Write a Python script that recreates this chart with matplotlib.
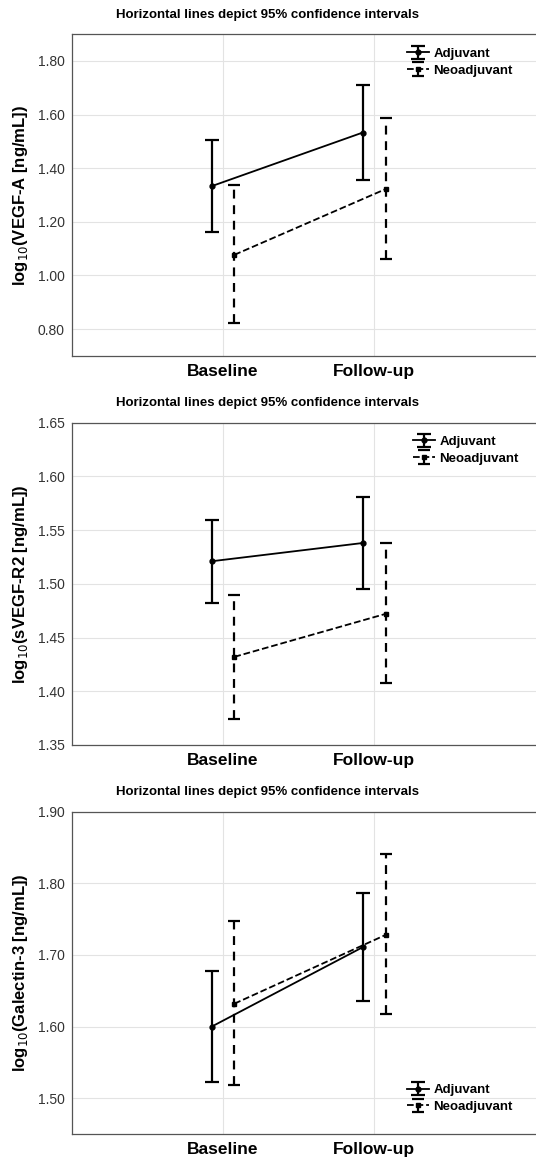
import matplotlib
matplotlib.use("Agg")
import matplotlib.pyplot as plt
import numpy as np

plt.rcParams['font.family'] = ['Liberation Sans', 'DejaVu Sans']

# categories
times = ['Baseline', 'Follow-up']
groups = ['Adjuvant', 'Neoadjuvant']

# panel 1 : VEGF-A
vegfa_adj_mean = [1.333, 1.533]
vegfa_adj_low = [1.161, 1.356]
vegfa_adj_high = [1.504, 1.711]
vegfa_neo_mean = [1.077, 1.322]
vegfa_neo_low = [0.824, 1.061]
vegfa_neo_high = [1.339, 1.588]

# panel 2 : sVEGF-R2
svegf_adj_mean = [1.521, 1.538]
svegf_adj_low = [1.482, 1.495]
svegf_adj_high = [1.559, 1.581]
svegf_neo_mean = [1.432, 1.472]
svegf_neo_low = [1.374, 1.408]
svegf_neo_high = [1.490, 1.538]

# panel 3 : Galectin-3
gal_adj_mean = [1.600, 1.711]
gal_adj_low = [1.523, 1.636]
gal_adj_high = [1.677, 1.786]
gal_neo_mean = [1.632, 1.728]
gal_neo_low = [1.519, 1.617]
gal_neo_high = [1.747, 1.841]

panels = [
    dict(label=r'log$_{10}$(VEGF-A [ng/mL])', ylim=(0.70, 1.90), ticks=np.arange(0.8, 1.81, 0.2),
         adj=(vegfa_adj_mean, vegfa_adj_low, vegfa_adj_high),
         neo=(vegfa_neo_mean, vegfa_neo_low, vegfa_neo_high),
         loc='upper right', anchor=(0.95, 0.958),
         rect=[0.134, 0.6926, 0.866, 0.278], title_y=0.987),
    dict(label=r'log$_{10}$(sVEGF-R2 [ng/mL])', ylim=(1.35, 1.65), ticks=np.arange(1.35, 1.651, 0.05),
         adj=(svegf_adj_mean, svegf_adj_low, svegf_adj_high),
         neo=(svegf_neo_mean, svegf_neo_low, svegf_neo_high),
         loc='upper right', anchor=(0.963, 0.96),
         rect=[0.134, 0.3567, 0.866, 0.2783], title_y=0.652),
    dict(label=r'log$_{10}$(Galectin-3 [ng/mL])', ylim=(1.45, 1.90), ticks=np.arange(1.50, 1.91, 0.1),
         adj=(gal_adj_mean, gal_adj_low, gal_adj_high),
         neo=(gal_neo_mean, gal_neo_low, gal_neo_high),
         loc='lower right', anchor=(0.95, 0.065),
         rect=[0.134, 0.0207, 0.866, 0.2783], title_y=0.316),
]

fig = plt.figure(figsize=(5.36, 11.58), dpi=100)
x = np.arange(1, len(times) + 1)
off = 0.075

for p in panels:
    ax = fig.add_axes(p['rect'])
    m, lo, hi = [np.array(v) for v in p['adj']]
    ax.errorbar(x - off, m, yerr=[m - lo, hi - m], color='black', lw=1.3, elinewidth=1.6,
                capsize=5, capthick=1.6, marker='o', ms=3.5, ls='-', label=groups[0], zorder=3)
    m, lo, hi = [np.array(v) for v in p['neo']]
    eb = ax.errorbar(x + off, m, yerr=[m - lo, hi - m], color='black', lw=1.3, elinewidth=1.6,
                     capsize=4, capthick=1.6, marker='s', ms=3.5, ls='--', label=groups[1], zorder=3)
    eb[2][0].set_linestyle((0, (4, 3)))
    ax.set_xlim(0, 3.07)
    ax.set_ylim(*p['ylim'])
    ax.set_xticks(x)
    ax.set_xticklabels(times, fontsize=12.5, fontweight='bold')
    ax.set_yticks(p['ticks'])
    ax.set_yticklabels(['%.2f' % t for t in p['ticks']], fontsize=10, color='#333333')
    ax.tick_params(length=0, pad=5)
    ax.tick_params(axis='x', pad=6)
    ax.grid(True, color='#e3e3e3', lw=0.8)
    ax.set_axisbelow(True)
    for s in ax.spines.values():
        s.set_color('#555555')
        s.set_linewidth(0.9)
    ax.spines['right'].set_visible(False)
    ax.set_ylabel(p['label'], fontsize=12, fontweight='bold', labelpad=6)
    ax.legend(loc=p['loc'], bbox_to_anchor=p['anchor'], frameon=False,
              prop={'weight': 'bold', 'size': 9.5}, handlelength=1.7, handletextpad=0.3,
              labelspacing=0.35, borderaxespad=0, borderpad=0)
    fig.text(0.5, p['title_y'], 'Horizontal lines depict 95% confidence intervals',
             ha='center', va='center', fontsize=9.5, fontweight='bold')

fig.savefig('out.png', dpi=100)
